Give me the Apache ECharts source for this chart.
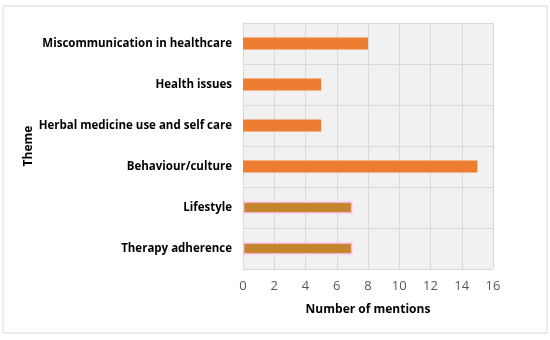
<!DOCTYPE html>
<html><head><meta charset="utf-8">
<script src="https://cdn.jsdelivr.net/npm/echarts@6/dist/echarts.min.js"></script>
<style>html,body{margin:0;padding:0;background:#fff}#c{width:550px;height:340px}</style>
</head><body><div id="c"></div>
<script>
const categories = ["Therapy adherence","Lifestyle","Behaviour/culture","Herbal medicine use and self care","Health issues","Miscommunication in healthcare"];
const mentions = [7,7,15,5,5,8];
const highlighted = [true,true,false,false,false,false];
const xTicks = [0,2,4,6,8,10,12,14,16];

const chart = echarts.init(document.getElementById('c'));
chart.setOption({
  animation:false,
  graphic:[{type:'rect',shape:{x:3,y:6,width:544,height:327},style:{fill:'none',stroke:'#d9d9d9',lineWidth:1}}],
  grid:{left:243,right:57,top:23,bottom:71,show:true,backgroundColor:'#f1f1f1',borderWidth:0},
  xAxis:{type:'value',min:xTicks[0],max:xTicks[xTicks.length-1],interval:2,
    name:'Number of mentions',nameLocation:'middle',nameGap:35,
    nameTextStyle:{fontFamily:'Open Sans',fontWeight:'bold',fontSize:12,color:'#000'},
    axisLine:{show:false},axisTick:{show:false},
    axisLabel:{fontFamily:'Open Sans',fontSize:13,color:'#595959',margin:11},
    splitLine:{lineStyle:{color:'#d9d9d9',width:1}}},
  yAxis:{type:'category',data:categories,
    name:'Theme',nameLocation:'middle',nameGap:206,nameRotate:90,
    nameTextStyle:{fontFamily:'Open Sans',fontWeight:'bold',fontSize:12,color:'#000'},
    axisLine:{show:true,lineStyle:{color:'#d9d9d9'}},axisTick:{show:false},
    axisLabel:{fontFamily:'Open Sans',fontWeight:'bold',fontSize:11.5,color:'#000',margin:11},
    splitLine:{show:true,lineStyle:{color:'#d9d9d9'}}},
  series:[{type:'bar',barWidth:12,
    data:mentions.map((v,i)=>({value:v,itemStyle: highlighted[i]?{color:'#c4862c',borderColor:'#f7b8dc',borderWidth:1.5}:{color:'#ed7d31'}}))}]
});
</script></body></html>
